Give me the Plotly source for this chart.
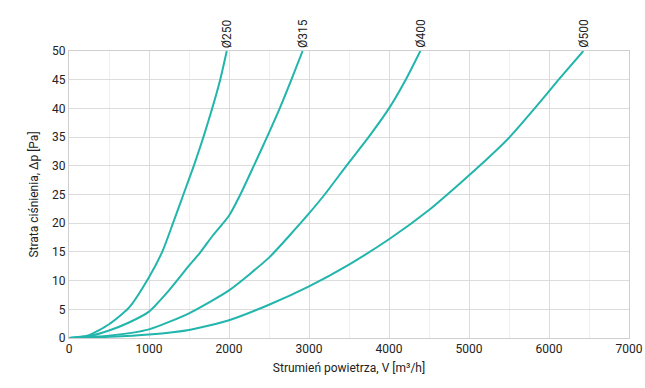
import plotly.graph_objects as go

names = ["Ø250", "Ø315", "Ø400", "Ø500"]

x_250 = [0, 250, 500, 750, 1000, 1165, 1300, 1430, 1560, 1680, 1790, 1890, 1972]
y_250 = [0, 0.5, 2.4, 5.3, 10.6, 15, 20, 25, 30, 35, 40, 45, 50]

x_315 = [0, 250, 500, 750, 1000, 1250, 1500, 1634, 1800, 2000, 2142, 2310, 2475, 2634, 2780, 2920]
y_315 = [0, 0.3, 1.3, 2.7, 4.6, 8.3, 12.6, 14.8, 17.9, 21.3, 25, 30, 35, 40, 45, 50]

x_400 = [0, 500, 1000, 1500, 2000, 2500, 2759, 3000, 3196, 3467, 3745, 4000, 4209, 4392]
y_400 = [0, 0.4, 1.5, 4.3, 8.3, 14, 17.9, 21.7, 25, 30, 35, 40, 45, 50]

x_500 = [0, 500, 1000, 1500, 2000, 2500, 3000, 3500, 4000, 4500, 4900, 5133, 5508, 5821, 6120, 6429]
y_500 = [0, 0.2, 0.6, 1.4, 3.1, 5.8, 9, 12.8, 17.2, 22.3, 27.1, 30, 35, 40, 45, 50]

series = [(x_250, y_250), (x_315, y_315), (x_400, y_400), (x_500, y_500)]

x_ticks = [0, 1000, 2000, 3000, 4000, 5000, 6000, 7000]
y_ticks = [0, 5, 10, 15, 20, 25, 30, 35, 40, 45, 50]

color = "#22b5ac"
font = "Roboto, 'DejaVu Sans', sans-serif"

fig = go.Figure()
for name, (xs, ys) in zip(names, series):
    fig.add_trace(go.Scatter(x=xs, y=ys, mode="lines", name=name,
                             line=dict(color=color, width=2, shape="spline", smoothing=0.6),
                             showlegend=False, hoverinfo="skip"))
    fig.add_annotation(x=xs[-1], y=ys[-1], text=name, textangle=-90, showarrow=False,
                       xanchor="center", yanchor="bottom", yshift=1,
                       font=dict(family=font, size=12, color="#222"))

fig.update_layout(
    width=645, height=388,
    margin=dict(l=69, r=16, t=51, b=50),
    paper_bgcolor="white", plot_bgcolor="white",
    font=dict(family=font, size=12, color="#222"),
    xaxis=dict(range=[0, 7000], tickvals=x_ticks, showgrid=True, gridcolor="#dcdcdc", gridwidth=1,
               minor=dict(dtick=500, showgrid=True, gridcolor="#efefef", gridwidth=1),
               showline=True, linecolor="#cfcfcf", mirror=True, zeroline=False, automargin=False,
               ticks="", tickfont=dict(size=12, color="#222"),
               title=dict(text="Strumień powietrza, V [m³/h]", font=dict(size=12, color="#222"), standoff=8)),
    yaxis=dict(range=[0, 50], tickvals=y_ticks, showgrid=True, gridcolor="#dcdcdc", gridwidth=1,
               showline=True, linecolor="#cfcfcf", mirror=True, zeroline=False, automargin=False,
               ticks="", tickfont=dict(size=12, color="#222"),
               title=dict(text="Strata ciśnienia, Δp [Pa]", font=dict(size=12, color="#222"), standoff=10)),
)

fig.write_html("out.html", config={"displayModeBar": False},
               post_script="document.body.style.margin='0';")
